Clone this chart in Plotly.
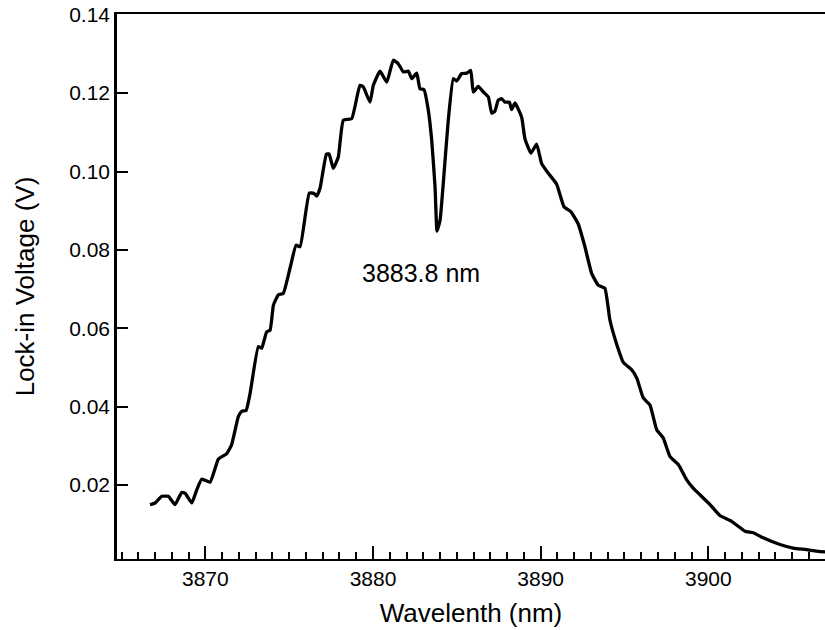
import plotly.graph_objects as go

wavelength = [3866.70, 3867.00, 3867.40, 3867.79, 3868.19, 3868.59, 3868.79, 3869.19, 3869.49, 3869.79,
              3870.28, 3870.78, 3871.28, 3871.57, 3871.97, 3872.17, 3872.43, 3872.67, 3873.16, 3873.36,
              3873.66, 3873.86, 3874.06, 3874.35, 3874.65, 3875.05, 3875.41, 3875.65, 3876.20, 3876.48,
              3876.64, 3876.84, 3877.22, 3877.38, 3877.63, 3877.93, 3878.23, 3878.73, 3879.22, 3879.42,
              3879.82, 3880.02, 3880.42, 3880.82, 3881.21, 3881.51, 3881.81, 3882.11, 3882.31, 3882.61,
              3882.80, 3883.04, 3883.30, 3883.50, 3883.70, 3883.82, 3884.00, 3884.19, 3884.49, 3884.79,
              3884.99, 3885.29, 3885.59, 3885.83, 3885.98, 3886.28, 3886.58, 3886.88, 3887.08, 3887.27,
              3887.47, 3887.67, 3887.87, 3888.13, 3888.27, 3888.47, 3888.87, 3889.06, 3889.42, 3889.76,
              3890.06, 3890.41, 3890.95, 3891.39, 3891.81, 3892.24, 3892.64, 3893.04, 3893.43, 3893.83,
              3894.13, 3894.53, 3894.93, 3895.43, 3895.74, 3896.12, 3896.52, 3896.92, 3897.31, 3897.71,
              3898.21, 3898.71, 3899.10, 3899.50, 3900.10, 3900.69, 3901.39, 3902.18, 3902.68, 3903.27,
              3904.27, 3905.06, 3905.86, 3906.46, 3906.95, 3907.30]

voltage = [0.0150, 0.0154, 0.0171, 0.0171, 0.0150, 0.0181, 0.0179, 0.0154, 0.0188, 0.0215,
           0.0207, 0.0266, 0.0280, 0.0303, 0.0375, 0.0388, 0.0390, 0.0434, 0.0553, 0.0549,
           0.0591, 0.0595, 0.0659, 0.0685, 0.0689, 0.0753, 0.0812, 0.0808, 0.0945, 0.0944,
           0.0937, 0.0957, 0.1044, 0.1045, 0.1008, 0.1037, 0.1131, 0.1135, 0.1220, 0.1216,
           0.1177, 0.1220, 0.1256, 0.1228, 0.1284, 0.1275, 0.1254, 0.1256, 0.1237, 0.1251,
           0.1211, 0.1209, 0.1156, 0.1080, 0.0961, 0.0848, 0.0876, 0.0969, 0.1131, 0.1237,
           0.1231, 0.1250, 0.1251, 0.1258, 0.1203, 0.1217, 0.1203, 0.1190, 0.1149, 0.1154,
           0.1182, 0.1186, 0.1177, 0.1177, 0.1158, 0.1175, 0.1138, 0.1084, 0.1047, 0.1070,
           0.1020, 0.0998, 0.0968, 0.0910, 0.0897, 0.0866, 0.0808, 0.0740, 0.0710, 0.0702,
           0.0621, 0.0560, 0.0513, 0.0494, 0.0472, 0.0422, 0.0404, 0.0341, 0.0320, 0.0273,
           0.0252, 0.0213, 0.0192, 0.0175, 0.0150, 0.0122, 0.0107, 0.0082, 0.0078, 0.0065,
           0.0048, 0.0039, 0.0035, 0.0031, 0.0029, 0.0028]

x_tickvals = [3870, 3880, 3890, 3900]
x_ticktext = ["3870", "3880", "3890", "3900"]
y_tickvals = [0.02, 0.04, 0.06, 0.08, 0.10, 0.12, 0.14]
y_ticktext = ["0.02", "0.04", "0.06", "0.08", "0.10", "0.12", "0.14"]

annotation_text = "3883.8 nm"
annotation_x = 3882.86
annotation_y = 0.0741

FONT = "Liberation Sans, Arial, Helvetica, sans-serif"

fig = go.Figure()
fig.add_trace(go.Scatter(
    x=wavelength, y=voltage, mode="lines",
    line=dict(color="black", width=3.3, shape="spline", smoothing=0.4),
    showlegend=False, hoverinfo="skip",
))

fig.add_annotation(x=annotation_x, y=annotation_y, text=annotation_text, showarrow=False,
                   font=dict(family=FONT, size=25, color="black"))

fig.update_layout(
    width=825, height=630,
    margin=dict(l=117, r=0, t=14, b=71),
    paper_bgcolor="white", plot_bgcolor="white",
    font=dict(family=FONT, color="black"),
)

fig.update_xaxes(
    range=[3864.73, 3906.96],
    showgrid=False, zeroline=False,
    showline=True, linecolor="black", linewidth=2, mirror=True,
    ticks="inside", ticklen=13, tickwidth=2, tickcolor="black",
    tickvals=x_tickvals, ticktext=x_ticktext,
    tickfont=dict(family=FONT, size=21, color="black"),
    minor=dict(dtick=1, tick0=3865, ticks="inside", ticklen=7, tickwidth=1.5, tickcolor="black"),
    title=dict(text="Wavelenth (nm)", font=dict(family=FONT, size=26, color="black"), standoff=15),
)

fig.update_yaxes(
    range=[0.0011, 0.1402],
    showgrid=False, zeroline=False,
    showline=True, linecolor="black", linewidth=2.5,
    ticks="inside", ticklen=11, tickwidth=2, tickcolor="black",
    tickvals=y_tickvals, ticktext=y_ticktext,
    tickfont=dict(family=FONT, size=21, color="black"),
    title=dict(text="Lock-in Voltage (V)", font=dict(family=FONT, size=26, color="black"), standoff=28),
)

fig.write_html("out.html")
